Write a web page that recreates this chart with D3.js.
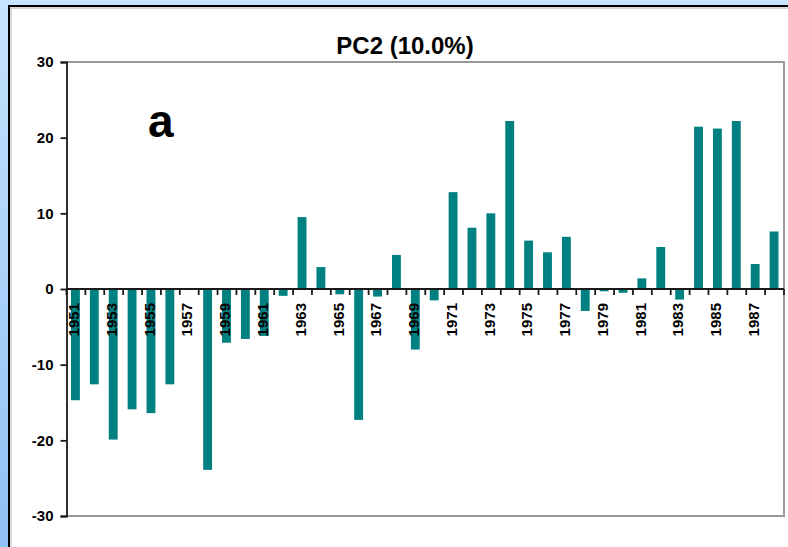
<!DOCTYPE html>
<html>
<head>
<meta charset="utf-8">
<script src="https://cdn.jsdelivr.net/npm/d3@7"></script>
<style>
  body { margin: 0; padding: 0; overflow: hidden; }
</style>
</head>
<body>
<div id="container"></div>
<script>
// years 1951 - 1988, one bar each
let years = ["1951", "1952", "1953", "1954", "1955", "1956", "1957", "1958", "1959", "1960",
  "1961", "1962", "1963", "1964", "1965", "1966", "1967", "1968", "1969", "1970",
  "1971", "1972", "1973", "1974", "1975", "1976", "1977", "1978", "1979", "1980",
  "1981", "1982", "1983", "1984", "1985", "1986", "1987", "1988"];

// PC2 scores
let pc2 = [-14.7, -12.6, -19.9, -15.9, -16.4, -12.6, 0, -23.9, -7.1, -6.6,
  -6.2, -0.9, 9.5, 2.9, -0.7, -17.3, -1.0, 4.5, -8.0, -1.5,
  12.8, 8.1, 10.0, 22.2, 6.4, 4.85, 6.9, -2.9, -0.3, -0.5,
  1.4, 5.55, -1.4, 21.45, 21.2, 22.2, 3.3, 7.6];

let yTicks = [-30, -20, -10, 0, 10, 20, 30];
let xLabels = years.filter(function (d, i) { return i % 2 == 0; });

let w = 788;
let h = 547;
let plotLeft = 66.5;
let plotRight = 784;
let plotTop = 62;
let plotBottom = 516;

let viz = d3.select("#container")
  .append("svg")
  .attr("width", w)
  .attr("height", h);

// blue background behind the chart area
let grad = viz.append("defs").append("linearGradient")
  .attr("id", "bg")
  .attr("x1", 0).attr("y1", 0).attr("x2", 0).attr("y2", 1);
grad.append("stop").attr("offset", "0%").attr("stop-color", "#c6e4fd");
grad.append("stop").attr("offset", "100%").attr("stop-color", "#8fc0f4");

viz.append("rect")
  .attr("width", w)
  .attr("height", h)
  .attr("fill", "url(#bg)");

// chart area (runs off the right and bottom edges)
viz.append("rect")
  .attr("x", 9)
  .attr("y", 6)
  .attr("width", 800)
  .attr("height", 560)
  .attr("fill", "white")
  .attr("stroke", "#000")
  .attr("stroke-width", 2);
viz.append("path")
  .attr("d", "M11,560 V8 H800")
  .attr("fill", "none")
  .attr("stroke", "#b0b0b0")
  .attr("stroke-width", 1);

let xScale = d3.scaleBand().domain(years).range([plotLeft, plotRight]).padding(0);
let yScale = d3.scaleLinear().domain([-30, 30]).range([plotBottom, plotTop]);

// plot area frame
viz.append("path")
  .attr("d", "M" + plotLeft + "," + plotTop + " H" + plotRight + " V" + plotBottom + " H" + plotLeft)
  .attr("fill", "none")
  .attr("stroke", "#9a9a9a")
  .attr("stroke-width", 2);

// bars
let bw = xScale.bandwidth() * 0.47;
viz.append("g")
  .selectAll("rect")
  .data(pc2)
  .enter()
  .append("rect")
  .attr("x", function (d, i) { return xScale(years[i]) + (xScale.bandwidth() - bw) / 2 - 0.5; })
  .attr("y", function (d) { return yScale(Math.max(d, 0)); })
  .attr("width", bw)
  .attr("height", function (d) { return Math.abs(yScale(d) - yScale(0)); })
  .attr("fill", "#008080");

// y axis (plain hyphen for negatives, like the original)
let yAxis = d3.axisLeft(yScale)
  .tickValues(yTicks)
  .tickFormat(function (d) { return String(d); })
  .tickSize(6)
  .tickPadding(7);
let yAxisGroup = viz.append("g")
  .attr("transform", "translate(" + plotLeft + ",0)")
  .call(yAxis);
yAxisGroup.select(".domain").attr("stroke", "#1a1a1a").attr("stroke-width", 1.8);
yAxisGroup.selectAll(".tick line").attr("stroke", "#1a1a1a").attr("stroke-width", 1.8);
yAxisGroup.selectAll(".tick text")
  .attr("font-family", "Arial, 'Liberation Sans', sans-serif")
  .attr("font-weight", "bold")
  .attr("font-size", "15px")
  .attr("fill", "#000");

// category axis along zero
let zeroY = yScale(0);
viz.append("line")
  .attr("x1", plotLeft).attr("x2", plotRight)
  .attr("y1", zeroY).attr("y2", zeroY)
  .attr("stroke", "#1a1a1a")
  .attr("stroke-width", 1.8);

let bounds = years.map(function (d) { return xScale(d); }).concat([plotRight]);
viz.append("g")
  .selectAll("line")
  .data(bounds)
  .enter()
  .append("line")
  .attr("x1", function (d) { return d; })
  .attr("x2", function (d) { return d; })
  .attr("y1", zeroY)
  .attr("y2", zeroY + 6)
  .attr("stroke", "#1a1a1a")
  .attr("stroke-width", 1.8);

viz.append("g")
  .selectAll("text")
  .data(xLabels)
  .enter()
  .append("text")
  .attr("transform", function (d) {
    let x = xScale(d) + xScale.bandwidth() / 2 - 2;
    return "translate(" + x + "," + (zeroY + 14) + ") rotate(-90)";
  })
  .attr("text-anchor", "end")
  .attr("dy", "0.35em")
  .attr("font-family", "Arial, 'Liberation Sans', sans-serif")
  .attr("font-weight", "bold")
  .attr("font-size", "15px")
  .attr("fill", "#000")
  .text(function (d) { return d; });

// title
viz.append("text")
  .attr("x", 405)
  .attr("y", 53.5)
  .attr("text-anchor", "middle")
  .attr("font-family", "Arial, 'Liberation Sans', sans-serif")
  .attr("font-weight", "bold")
  .attr("font-size", "24px")
  .attr("fill", "#000")
  .text("PC2 (10.0%)");

// panel letter
viz.append("text")
  .attr("x", 148)
  .attr("y", 137)
  .attr("font-family", "Arial, 'Liberation Sans', sans-serif")
  .attr("font-weight", "bold")
  .attr("font-size", "46px")
  .attr("fill", "#000")
  .text("a");
</script>
</body>
</html>
